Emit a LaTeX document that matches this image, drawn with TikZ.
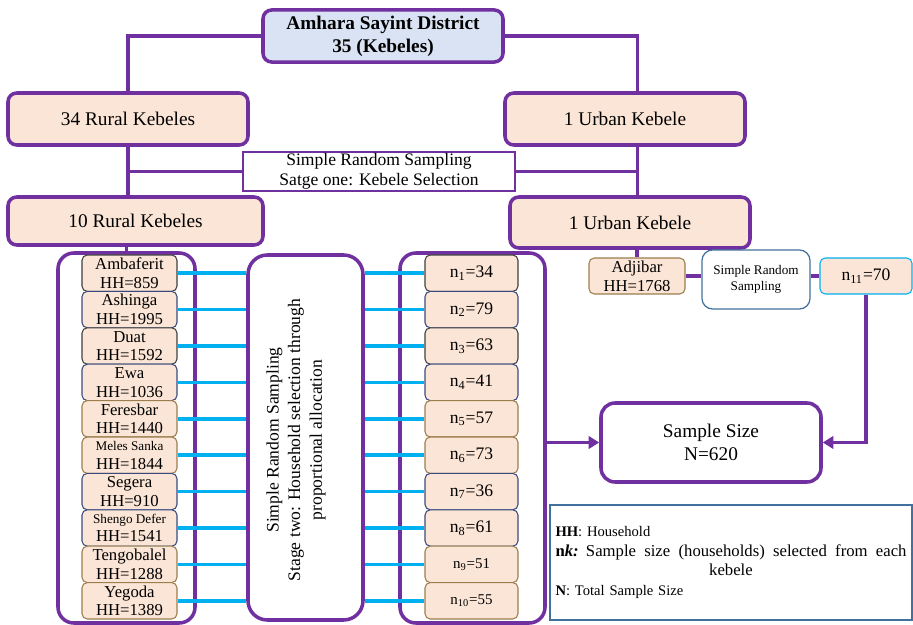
\documentclass[tikz,border=0pt]{standalone}
\usepackage{fontspec}
\setmainfont{Liberation Serif}
\usetikzlibrary{arrows.meta}
\definecolor{boxpurple}{HTML}{7030A0}
\definecolor{peach}{HTML}{FBE5D6}
\definecolor{topblue}{HTML}{DAE3F3}
\definecolor{lineblue}{HTML}{00B0F0}
\definecolor{kgray}{HTML}{404040}
\definecolor{knavy}{HTML}{3A4A80}
\definecolor{ktan}{HTML}{9C7E4E}
\definecolor{legendblue}{HTML}{41719C}
\tikzset{
  district/.style={draw=boxpurple, line width=2pt, rounded corners=5pt, fill=topblue, align=center, minimum width=4.8cm, minimum height=1.04cm, font=\bfseries\fontsize{11}{13}\selectfont},
  levelbox/.style={draw=boxpurple, line width=2pt, rounded corners=5pt, fill=peach, align=center, font=\fontsize{11}{13}\selectfont},
  container/.style={draw=boxpurple, line width=2pt, rounded corners=9pt, fill=white},
  kebele/.style={draw, line width=0.6pt, rounded corners=3pt, fill=peach, minimum width=1.9cm, minimum height=0.728cm, inner sep=0pt, align=center, font=\fontsize{9.5}{10.6}\selectfont},
  nbox/.style={kebele, minimum width=1.86cm, font=\fontsize{10}{12}\selectfont},
  purpleline/.style={draw=boxpurple, line width=2pt},
  cyanline/.style={draw=lineblue, line width=2pt},
  purplearrow/.style={purpleline, -{Triangle[length=6pt,width=7pt]}},
}
\begin{document}
\begin{tikzpicture}
\useasboundingbox (0,0) rectangle (18.26,-12.5);

% Stage one
\node[district] (district) at (7.66,-0.72) {Amhara Sayint District\\35 (Kebeles)};
\node[levelbox, minimum width=4.8cm, minimum height=1.04cm] (rural34) at (2.56,-2.38) {34 Rural Kebeles};
\node[levelbox, minimum width=4.8cm, minimum height=1.04cm] (urban1) at (12.5,-2.38) {1 Urban Kebele};
\node[draw=boxpurple, line width=1.7pt, fill=white, align=center, minimum width=5.44cm, minimum height=0.78cm, inner sep=0pt, font=\fontsize{10}{11.3}\selectfont] (srs1) at (7.58,-3.43) {Simple Random Sampling\\Satge one: Kebele Selection};
\node[levelbox, minimum width=5.1cm, minimum height=0.96cm] (rural10) at (2.71,-4.42) {10 Rural Kebeles};
\node[levelbox, minimum width=4.8cm, minimum height=1.02cm] (urban2) at (12.6,-4.45) {1 Urban Kebele};

\draw[purpleline] (district.west) -| (rural34.north);
\draw[purpleline] (district.east) -| ([xshift=0.25cm]urban1.north);
\draw[purpleline] (rural34.south) -- (rural34.south |- rural10.north);
\draw[purpleline] (srs1.west) -- (srs1.west -| rural34.south);
\draw[purpleline] ([xshift=0.25cm]urban1.south) -- ([xshift=0.25cm]urban1.south |- urban2.north);
\draw[purpleline] (srs1.east) -- (srs1.east -| urban2.north) -- ++(0.15,0);

% Stage two
\node[container, minimum width=2.74cm, minimum height=7.4cm] (leftbox) at (2.53,-8.76) {};
\node[container, rounded corners=11pt, minimum width=2.3cm, minimum height=7.3cm] (midbox) at (6.11,-8.75) {};
\node[container, minimum width=2.9cm, minimum height=7.4cm] (rightbox) at (9.45,-8.76) {};
\node[rotate=90, align=center, font=\fontsize{10}{12.3}\selectfont] (midtext) at (5.92,-8.8) {Simple Random Sampling\\Stage two: Household selection through\\proportional allocation};
\draw[purpleline] (leftbox.north |- rural10.south) -- (leftbox.north);

\node[kebele, draw=kgray] (k1) at (2.59,-5.464) {Ambaferit\\HH=859};
\node[kebele, draw=knavy] (k2) at (2.59,-6.192) {Ashinga\\HH=1995};
\node[kebele, draw=kgray] (k3) at (2.59,-6.92) {Duat\\HH=1592};
\node[kebele, draw=knavy] (k4) at (2.59,-7.648) {Ewa\\HH=1036};
\node[kebele, draw=ktan] (k5) at (2.59,-8.376) {Feresbar\\HH=1440};
\node[kebele, draw=ktan] (k6) at (2.59,-9.104) {{\fontsize{7.5}{9}\selectfont Meles Sanka}\\HH=1844};
\node[kebele, draw=knavy] (k7) at (2.59,-9.832) {Segera\\HH=910};
\node[kebele, draw=knavy] (k8) at (2.59,-10.56) {{\fontsize{7.5}{9}\selectfont Shengo Defer}\\HH=1541};
\node[kebele, draw=ktan] (k9) at (2.59,-11.288) {Tengobalel\\HH=1288};
\node[kebele, draw=ktan] (k10) at (2.59,-12.016) {Yegoda\\HH=1389};

\node[nbox, draw=kgray] (n1) at (9.43,-5.464) {n\textsubscript{1}=34};
\node[nbox, draw=knavy] (n2) at (9.43,-6.192) {n\textsubscript{2}=79};
\node[nbox, draw=kgray] (n3) at (9.43,-6.92) {n\textsubscript{3}=63};
\node[nbox, draw=knavy] (n4) at (9.43,-7.648) {n\textsubscript{4}=41};
\node[nbox, draw=ktan] (n5) at (9.43,-8.376) {n\textsubscript{5}=57};
\node[nbox, draw=ktan] (n6) at (9.43,-9.104) {n\textsubscript{6}=73};
\node[nbox, draw=knavy] (n7) at (9.43,-9.832) {n\textsubscript{7}=36};
\node[nbox, draw=knavy] (n8) at (9.43,-10.56) {n\textsubscript{8}=61};
\node[nbox, draw=ktan, font=\fontsize{8.5}{10}\selectfont] (n9) at (9.43,-11.288) {n\textsubscript{9}=51};
\node[nbox, draw=ktan, font=\fontsize{8.5}{10}\selectfont] (n10) at (9.43,-12.016) {n\textsubscript{10}=55};

% Household connectors
\draw[cyanline] (k1.east) -- (k1.east -| midbox.west);
\draw[cyanline] (k2.east) -- (k2.east -| midbox.west);
\draw[cyanline] (k3.east) -- (k3.east -| midbox.west);
\draw[cyanline] (k4.east) -- (k4.east -| midbox.west);
\draw[cyanline] (k5.east) -- (k5.east -| midbox.west);
\draw[cyanline] (k6.east) -- (k6.east -| midbox.west);
\draw[cyanline] (k7.east) -- (k7.east -| midbox.west);
\draw[cyanline] (k8.east) -- (k8.east -| midbox.west);
\draw[cyanline] (k9.east) -- (k9.east -| midbox.west);
\draw[cyanline] (k10.east) -- (k10.east -| midbox.west);
\draw[cyanline] (n1.west -| midbox.east) -- (n1.west);
\draw[cyanline] (n2.west -| midbox.east) -- (n2.west);
\draw[cyanline] (n3.west -| midbox.east) -- (n3.west);
\draw[cyanline] (n4.west -| midbox.east) -- (n4.west);
\draw[cyanline] (n5.west -| midbox.east) -- (n5.west);
\draw[cyanline] (n6.west -| midbox.east) -- (n6.west);
\draw[cyanline] (n7.west -| midbox.east) -- (n7.west);
\draw[cyanline] (n8.west -| midbox.east) -- (n8.west);
\draw[cyanline] (n9.west -| midbox.east) -- (n9.west);
\draw[cyanline] (n10.west -| midbox.east) -- (n10.west);

% Urban kebele
\node[kebele, draw=ktan, minimum width=1.92cm, minimum height=0.72cm] (adjibar) at (12.74,-5.52) {Adjibar\\HH=1768};
\node[draw=legendblue, line width=0.7pt, rounded corners=6pt, fill=white, align=center, minimum width=2.16cm, minimum height=1.18cm, inner sep=0pt, font=\fontsize{7.5}{9}\selectfont] (srs2) at (15.12,-5.59) {Simple Random\\Sampling};
\node[nbox, draw=lineblue, minimum width=1.84cm, minimum height=0.72cm] (n11) at (17.32,-5.52) {n\textsubscript{11}=70};
\draw[purpleline] (adjibar.north |- urban2.south) -- (adjibar.north);
\draw[purpleline] (adjibar.east) -- (adjibar.east -| srs2.west);
\draw[purpleline] (srs2.east |- n11.west) -- (n11.west);

% Sample size
\node[container, rounded corners=8pt, align=center, minimum width=4.4cm, minimum height=1.58cm, font=\fontsize{11}{13.2}\selectfont] (total) at (14.22,-8.85) {Sample Size\\N=620};
\draw[purplearrow] (rightbox.east |- total.west) -- (total.west);
\draw[purplearrow] (n11.south) |- (total.east);

% Legend
\node[draw=legendblue, line width=0.7pt, minimum width=7.24cm, minimum height=2.3cm, text width=7.02cm, inner xsep=0.1cm, align=left, font=\fontsize{8.3}{11.3}\selectfont] (legend) at (14.62,-11.25) {\textbf{HH}: Household\\{\fontsize{9.5}{11.3}\selectfont\textbf{n\textit{k:}} Sample\hfill size\hfill (households)\hfill selected\hfill from\hfill each}\\\makebox[\linewidth][c]{\fontsize{9.5}{11.3}\selectfont kebele}\\\textbf{N}: Total Sample Size};
\end{tikzpicture}
\end{document}
